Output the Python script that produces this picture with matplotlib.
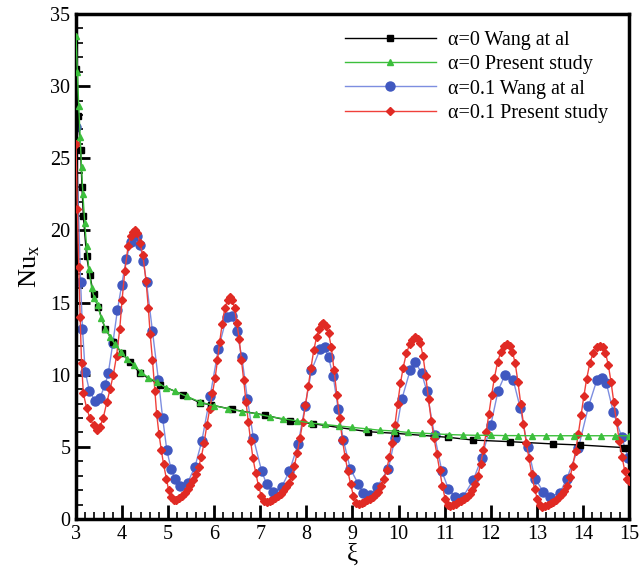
import matplotlib
matplotlib.use("Agg")
import matplotlib.pyplot as plt
from matplotlib.ticker import MultipleLocator

plt.rcParams['font.family'] = ['Liberation Serif', 'DejaVu Serif']
plt.rcParams['mathtext.fontset'] = 'custom'
plt.rcParams['mathtext.rm'] = 'Liberation Serif'
plt.rcParams['mathtext.it'] = 'Liberation Serif:italic'

# alpha=0, Wang et al (black squares)
xi_a0_wang = [3.00, 3.05, 3.10, 3.13, 3.16, 3.23, 3.30, 3.38, 3.48, 3.63, 3.81, 3.99,
              4.17, 4.39, 4.82, 5.33, 5.69, 5.94, 6.38, 7.10, 7.64, 8.15, 9.34, 9.92,
              11.08, 11.62, 12.42, 13.36, 13.94, 14.88, 15.00]
nu_a0_wang = [31.2, 27.9, 25.6, 23.0, 21.0, 18.2, 16.9, 15.6, 14.7, 13.2, 12.3, 11.5,
              10.9, 10.1, 9.3, 8.6, 8.06, 7.9, 7.6, 7.2, 6.8, 6.6, 6.05, 5.94,
              5.66, 5.47, 5.36, 5.2, 5.13, 4.95, 4.92]

# alpha=0, present study (green triangles)
xi_a0_pres = [3.00, 3.03, 3.06, 3.09, 3.12, 3.15, 3.19, 3.23, 3.28, 3.34, 3.40, 3.47,
              3.55, 3.64, 3.74, 3.85, 3.97, 4.10, 4.25, 4.40, 4.57, 4.75, 4.95, 5.15,
              5.40, 5.70, 6.00, 6.30, 6.60, 6.90, 7.20, 7.50, 7.80, 8.10, 8.40, 8.70,
              9.00, 9.30, 9.60, 9.90, 10.20, 10.50, 10.80, 11.10, 11.40, 11.70, 12.00,
              12.30, 12.60, 12.90, 13.20, 13.50, 13.80, 14.10, 14.40, 14.70, 15.00]
nu_a0_pres = [33.5, 31.0, 28.6, 26.5, 24.4, 22.5, 20.5, 18.9, 17.3, 16.0, 15.3, 14.8,
              13.9, 13.2, 12.6, 12.1, 11.6, 11.1, 10.7, 10.2, 9.8, 9.5, 9.1, 8.85,
              8.5, 8.1, 7.85, 7.65, 7.45, 7.3, 7.1, 6.95, 6.8, 6.65, 6.55, 6.45,
              6.35, 6.25, 6.15, 6.1, 6.0, 5.95, 5.9, 5.85, 5.82, 5.8, 5.8,
              5.78, 5.78, 5.77, 5.77, 5.77, 5.77, 5.77, 5.77, 5.77, 5.77]

# alpha=0.1, Wang et al (blue circles)
xi_a01_wang = [3.00, 3.10, 3.14, 3.20, 3.29, 3.41, 3.52, 3.63, 3.70, 3.80, 3.90, 3.99,
               4.09, 4.19, 4.32, 4.39, 4.46, 4.53, 4.66, 4.79, 4.88, 4.97, 5.06, 5.15,
               5.26, 5.42, 5.58, 5.73, 5.91, 6.09, 6.27, 6.38, 6.49, 6.60, 6.72, 6.85,
               7.03, 7.14, 7.28, 7.46, 7.63, 7.82, 7.97, 8.11, 8.30, 8.40, 8.48, 8.58,
               8.69, 8.80, 8.95, 9.13, 9.23, 9.38, 9.53, 9.78, 9.92, 10.07, 10.25, 10.36,
               10.50, 10.61, 10.78, 10.94, 11.08, 11.22, 11.40, 11.62, 11.80, 12.00,
               12.16, 12.31, 12.49, 12.64, 12.80, 12.96, 13.14, 13.29, 13.50, 13.65,
               13.90, 14.12, 14.30, 14.41, 14.51, 14.66, 14.84, 14.98]
nu_a01_wang = [27.2, 16.4, 13.2, 10.2, 8.9, 8.2, 8.4, 9.3, 10.1, 12.2, 14.5, 16.2,
               18.0, 19.2, 19.6, 19.0, 17.9, 16.4, 13.0, 9.6, 7.0, 4.8, 3.5, 2.8,
               2.3, 2.5, 3.6, 5.4, 8.5, 11.8, 14.0, 14.1, 13.0, 11.2, 8.3, 5.6,
               3.3, 2.4, 1.9, 2.2, 3.3, 5.2, 7.8, 10.3, 11.8, 11.9, 11.2, 9.9,
               7.6, 5.5, 3.5, 2.4, 1.8, 1.66, 2.2, 3.5, 5.6, 8.3, 10.3, 10.9,
               10.1, 8.9, 5.8, 3.3, 2.1, 1.55, 1.55, 2.7, 4.2, 6.5,
               8.9, 10.0, 9.6, 7.7, 5.0, 2.8, 1.9, 1.55, 1.8, 2.8,
               4.9, 7.8, 9.6, 9.75, 9.4, 7.4, 5.7, 4.2]

# alpha=0.1, present study (red diamonds)
xi_a01_pres = [3.00, 3.03, 3.06, 3.09, 3.12, 3.16, 3.23, 3.30, 3.38, 3.45, 3.52, 3.59,
               3.67, 3.74, 3.81, 3.88, 3.95, 4.00, 4.06, 4.13, 4.19, 4.24, 4.28, 4.33,
               4.39, 4.45, 4.52, 4.57, 4.61, 4.66, 4.71, 4.75, 4.80, 4.85, 4.90, 4.96,
               5.01, 5.06, 5.12, 5.18, 5.24, 5.30, 5.36, 5.42, 5.48, 5.54, 5.60, 5.66,
               5.72, 5.78, 5.84, 5.90, 5.96, 6.02, 6.07, 6.12, 6.17, 6.23, 6.29, 6.34,
               6.39, 6.44, 6.49, 6.54, 6.59, 6.64, 6.69, 6.74, 6.79, 6.84, 6.90, 6.96,
               7.02, 7.08, 7.14, 7.20, 7.26, 7.32, 7.38, 7.44, 7.50, 7.56, 7.62, 7.68,
               7.74, 7.80, 7.86, 7.92, 7.98, 8.04, 8.10, 8.16, 8.22, 8.28, 8.33, 8.37,
               8.42, 8.48, 8.54, 8.60, 8.66, 8.72, 8.78, 8.84, 8.90, 8.96, 9.02, 9.08,
               9.14, 9.20, 9.26, 9.32, 9.38, 9.44, 9.50, 9.56, 9.62, 9.68, 9.74, 9.80,
               9.86, 9.92, 9.98, 10.04, 10.10, 10.17, 10.24, 10.30, 10.36, 10.42, 10.47, 10.53,
               10.59, 10.65, 10.71, 10.77, 10.83, 10.89, 10.95, 11.01, 11.07, 11.12, 11.18, 11.24,
               11.30, 11.36, 11.42, 11.48, 11.54, 11.60, 11.66, 11.72, 11.78, 11.84, 11.90, 11.96,
               12.02, 12.08, 12.15, 12.22, 12.29, 12.35, 12.41, 12.47, 12.53, 12.59, 12.65, 12.71,
               12.77, 12.83, 12.89, 12.95, 13.01, 13.07, 13.12, 13.18, 13.24, 13.30, 13.36, 13.42,
               13.48, 13.54, 13.60, 13.66, 13.72, 13.78, 13.84, 13.90, 13.96, 14.02, 14.08, 14.15,
               14.22, 14.30, 14.37, 14.43, 14.49, 14.55, 14.61, 14.67, 14.73, 14.79, 14.85, 14.91,
               14.96, 15.00]
nu_a01_pres = [26.0, 21.5, 17.5, 14.0, 10.8, 8.7, 7.7, 7.0, 6.5, 6.2, 6.4, 7.0,
               8.1, 9.0, 10.0, 11.3, 13.2, 15.2, 17.2, 18.9, 19.6, 19.9, 20.0, 19.8,
               19.1, 18.3, 16.5, 14.6, 12.8, 11.0, 8.9, 7.3, 5.9, 4.8, 3.8, 2.8,
               2.0, 1.5, 1.3, 1.35, 1.45, 1.6, 1.8, 2.05, 2.35, 2.7, 3.1, 3.6,
               4.3, 5.3, 6.5, 7.6, 8.7, 9.8, 11.0, 12.3, 13.5, 14.6, 15.2, 15.4,
               15.2, 14.6, 13.6, 12.5, 11.0, 9.6, 8.1, 6.7, 5.4, 4.2, 3.2, 2.3,
               1.6, 1.25, 1.2, 1.25, 1.35, 1.45, 1.6, 1.75, 1.95, 2.2, 2.5, 3.0,
               3.7, 4.6, 5.6, 6.7, 7.9, 9.2, 10.5, 11.7, 12.6, 13.2, 13.5, 13.6,
               13.4, 12.9, 11.9, 10.3, 8.6, 7.0, 5.5, 4.3, 3.3, 2.4, 1.6, 1.1,
               1.05, 1.1, 1.2, 1.3, 1.4, 1.55, 1.7, 1.9, 2.3, 2.8, 3.4, 4.3,
               5.3, 6.5, 8.0, 9.4, 10.5, 11.5, 12.1, 12.4, 12.6, 12.5, 12.2, 11.3,
               9.9, 8.3, 6.8, 5.6, 4.5, 3.4, 2.3, 1.4, 1.0, 0.9, 0.95, 1.05,
               1.15, 1.25, 1.4, 1.55, 1.75, 2.0, 2.4, 3.0, 3.8, 4.8, 6.0, 7.3,
               8.6, 9.8, 10.9, 11.6, 12.0, 12.1, 12.0, 11.6, 10.8, 9.5, 8.0, 6.6,
               5.3, 4.2, 3.1, 2.1, 1.4, 0.95, 0.85, 0.9, 1.0, 1.1, 1.2, 1.35,
               1.5, 1.7, 1.95, 2.3, 2.9, 3.7, 4.7, 5.9, 7.2, 8.5, 9.7, 10.8,
               11.5, 11.9, 12.0, 11.9, 11.5, 10.7, 9.5, 8.1, 6.7, 5.4, 4.3, 3.3,
               2.8, 2.6]

labels = ['α=0 Wang at al', 'α=0 Present study', 'α=0.1 Wang at al', 'α=0.1 Present study']

fig = plt.figure(figsize=(6.39, 5.79), dpi=100)
ax = fig.add_axes([76/639, 1 - 519/579, (629 - 76)/639, (519 - 14)/579])

ax.plot(xi_a0_wang, nu_a0_wang, color='black', lw=1.0, marker='s', ms=4,
        mfc='black', mec='black', label=labels[0], zorder=3)
ax.plot(xi_a0_pres, nu_a0_pres, color='#3cbf3c', lw=1.0, marker='^', ms=4,
        mfc='#3cbf3c', mec='#3cbf3c', label=labels[1], zorder=4)
ax.plot(xi_a01_wang, nu_a01_wang, color='#7d8ee0', lw=1.0, marker='o', ms=6.5,
        mfc='#4058c0', mec='#4058c0', label=labels[2], zorder=2)
ax.plot(xi_a01_pres, nu_a01_pres, color='#f0403a', lw=1.0, marker='D', ms=4,
        mfc='#e02a24', mec='#e02a24', label=labels[3], zorder=3)

ax.set_xlim(3, 15)
ax.set_ylim(0, 35)
ax.xaxis.set_major_locator(MultipleLocator(1))
ax.xaxis.set_minor_locator(MultipleLocator(0.2))
ax.yaxis.set_major_locator(MultipleLocator(5))
ax.yaxis.set_minor_locator(MultipleLocator(1))
ax.tick_params(which='both', direction='in', top=False, right=False,
               labelsize=14.5, pad=4)
ax.tick_params(which='major', length=10, width=2)
ax.tick_params(which='minor', length=5, width=1.2)
for s in ax.spines.values():
    s.set_linewidth(2.5)

ax.set_xlabel('ξ', fontsize=18, labelpad=0)
ax.set_ylabel(r'$\mathrm{Nu_x}$', fontsize=19, labelpad=6)

leg = ax.legend(loc='upper right', bbox_to_anchor=(0.962, 0.966), frameon=False,
                fontsize=14.5, handlelength=4.5, handletextpad=0.6,
                labelspacing=0.25, borderpad=0, borderaxespad=0, numpoints=1)

fig.savefig('out.png', dpi=100)
